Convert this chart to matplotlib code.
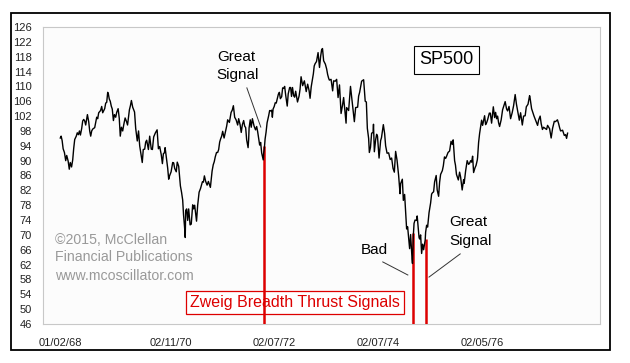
import pandas as pd
import matplotlib.pyplot as plt

plt.rcParams['font.family'] = ['Liberation Sans', 'DejaVu Sans']

# S&P 500 readings (month-day, close) taken off the chart, year by year
dates_1968 = ["01-02", "01-08", "01-15", "01-22", "01-31", "02-09", "02-16", "02-26", "03-05", "03-12",
              "03-21", "03-29", "04-05", "04-12", "04-23", "04-30", "05-08", "05-15", "05-22", "05-31",
              "06-07", "06-14", "06-21", "06-28", "07-10", "07-19", "07-26", "08-02", "08-09", "08-16",
              "08-23", "08-30", "09-13", "09-20", "09-27", "10-10", "10-18", "10-25", "10-31", "11-08",
              "11-15", "11-22", "11-29", "12-03", "12-10", "12-17", "12-24", "12-31"]
sp_1968 = [96.1, 96.6, 95.4, 93.2, 92.2, 90.0, 91.4, 89.9, 87.7, 89.5,
           88.3, 90.2, 93.3, 95.7, 96.6, 97.5, 97.0, 98.0, 96.9, 98.7,
           100.7, 101.1, 100.7, 99.6, 102.4, 100.5, 98.0, 96.6, 98.0, 98.5,
           98.7, 98.9, 101.7, 101.3, 102.9, 103.5, 104.6, 102.9, 103.4, 104.0,
           105.5, 105.7, 108.4, 108.1, 106.6, 106.0, 104.7, 103.9]

dates_1969 = ["01-08", "01-15", "01-24", "01-31", "02-10", "02-18", "02-25", "03-05", "03-14", "03-21",
              "03-31", "04-10", "04-17", "04-30", "05-07", "05-14", "05-23", "06-05", "06-13", "06-24",
              "07-03", "07-11", "07-18", "07-29", "08-05", "08-15", "08-22", "08-29", "09-10", "09-19",
              "09-30", "10-08", "10-17", "10-29", "11-10", "11-19", "11-28", "12-09", "12-17", "12-24",
              "12-31"]
sp_1969 = [100.8, 102.4, 101.7, 103.0, 104.0, 101.4, 96.6, 99.0, 98.0, 99.6,
           101.5, 100.5, 99.6, 103.7, 104.8, 106.2, 104.4, 103.1, 98.7, 95.3,
           98.0, 94.0, 92.3, 89.5, 93.0, 93.1, 95.0, 95.5, 93.0, 96.6,
           93.1, 93.0, 96.4, 97.5, 98.3, 93.2, 93.8, 91.6, 89.2, 91.9,
           92.1]

dates_1970 = ["01-05", "01-14", "01-23", "01-30", "02-05", "02-16", "02-27", "03-06", "03-13", "03-24",
              "03-31", "04-10", "04-22", "04-30", "05-08", "05-14", "05-21", "05-26", "05-29", "06-05",
              "06-12", "06-19", "06-29", "07-07", "07-17", "07-24", "07-31", "08-07", "08-13", "08-21",
              "08-31", "09-10", "09-23", "09-30", "10-07", "10-16", "10-26", "11-04", "11-18", "11-30",
              "12-08", "12-15", "12-22", "12-31"]
sp_1970 = [93.5, 90.7, 88.0, 85.0, 85.9, 87.0, 89.5, 89.4, 87.9, 87.0,
           89.6, 88.5, 83.2, 81.5, 79.4, 75.4, 72.2, 69.3, 76.6, 77.0,
           73.9, 77.0, 72.7, 72.9, 78.1, 77.0, 78.0, 75.8, 73.7, 78.0,
           81.5, 82.5, 84.3, 84.2, 85.9, 84.4, 83.4, 84.4, 82.8, 87.2,
           88.9, 89.7, 91.0, 92.2]

dates_1971 = ["01-08", "01-15", "01-22", "01-29", "02-05", "02-12", "02-22", "03-05", "03-12", "03-19",
              "03-31", "04-12", "04-20", "04-28", "05-07", "05-17", "05-28", "06-04", "06-14", "06-22",
              "06-30", "07-09", "07-16", "07-23", "07-30", "08-09", "08-13", "08-16", "08-24", "08-31",
              "09-08", "09-20", "09-30", "10-08", "10-15", "10-22", "10-29", "11-05", "11-12", "11-23",
              "11-26", "12-01", "12-06", "12-13", "12-20", "12-31"]
sp_1971 = [92.2, 93.0, 95.0, 95.9, 96.6, 97.9, 96.1, 98.0, 99.3, 101.0,
           100.3, 103.0, 103.6, 104.8, 101.7, 101.0, 99.6, 101.3, 99.7, 97.6,
           99.7, 100.8, 99.3, 98.9, 95.6, 93.5, 95.7, 98.8, 101.0, 99.0,
           101.3, 99.3, 98.3, 99.2, 97.8, 96.0, 94.2, 94.9, 92.1, 90.2,
           92.0, 93.4, 95.8, 97.7, 100.2, 102.1]

dates_1972 = ["01-07", "01-14", "01-21", "01-26", "01-31", "02-08", "02-15", "02-22", "02-29", "03-08",
              "03-15", "03-22", "03-31", "04-07", "04-14", "04-21", "04-28", "05-09", "05-16", "05-26",
              "06-02", "06-08", "06-15", "06-23", "06-30", "07-07", "07-20", "07-31", "08-07", "08-14",
              "08-25", "09-06", "09-19", "09-29", "10-09", "10-16", "10-24", "10-31", "11-08", "11-14",
              "11-20", "11-30", "12-11", "12-21", "12-29"]
sp_1972 = [103.5, 103.4, 103.6, 101.7, 103.9, 104.6, 105.6, 105.5, 106.6, 107.9,
           108.4, 106.7, 107.2, 109.6, 109.5, 110.0, 107.7, 104.7, 108.0, 109.7,
           109.7, 107.3, 109.7, 107.5, 107.1, 108.7, 105.8, 107.4, 109.3, 112.6,
           110.2, 111.5, 108.6, 110.6, 108.9, 106.8, 109.9, 111.6, 113.4, 115.5,
           116.1, 116.7, 119.1, 115.1, 118.1]

dates_1973 = ["01-05", "01-11", "01-19", "01-31", "02-09", "02-16", "02-23", "02-28", "03-12", "03-23",
              "03-30", "04-10", "04-20", "04-30", "05-10", "05-21", "05-31", "06-08", "06-25", "06-29",
              "07-13", "07-26", "07-31", "08-10", "08-22", "08-31", "09-14", "09-21", "09-28", "10-12",
              "10-26", "11-06", "11-14", "11-21", "11-30", "12-05", "12-13", "12-21", "12-31"]
sp_1973 = [119.9, 120.2, 116.9, 116.0, 114.7, 113.2, 112.2, 111.7, 111.9, 108.8,
           111.5, 111.4, 111.9, 107.0, 110.4, 102.7, 104.9, 107.0, 100.1, 104.3,
           103.5, 110.0, 108.2, 104.8, 100.5, 104.3, 104.4, 107.4, 108.4, 111.4,
           111.8, 106.0, 105.8, 98.7, 96.0, 92.2, 93.6, 97.4, 97.6]

dates_1974 = ["01-03", "01-09", "01-18", "01-25", "01-31", "02-11", "02-22", "02-28", "03-13", "03-22",
              "03-29", "04-08", "04-19", "04-30", "05-10", "05-20", "05-29", "06-07", "06-17", "06-28",
              "07-08", "07-12", "07-24", "07-31", "08-09", "08-16", "08-23", "08-30", "09-13", "09-20",
              "09-30", "10-03", "10-09", "10-14", "10-21", "10-31", "11-05", "11-12", "11-18", "11-22",
              "11-29", "12-06", "12-13", "12-20", "12-31"]
sp_1974 = [99.8, 92.4, 95.6, 97.1, 96.6, 90.7, 95.4, 96.2, 99.7, 97.3,
           94.0, 92.0, 92.1, 90.3, 90.7, 87.9, 86.9, 92.5, 90.1, 86.0,
           81.1, 83.8, 85.0, 79.3, 80.9, 76.3, 71.6, 72.2, 66.3, 70.1,
           63.5, 62.3, 69.8, 73.1, 74.0, 73.9, 75.1, 72.0, 69.3, 68.9,
           70.0, 65.0, 67.5, 66.0, 68.6]

dates_1975 = ["01-03", "01-10", "01-17", "01-27", "01-31", "02-07", "02-14", "02-21", "02-28", "03-07",
              "03-18", "03-25", "04-04", "04-11", "04-18", "04-30", "05-07", "05-15", "05-23", "05-30",
              "06-09", "06-20", "06-30", "07-08", "07-15", "07-25", "07-31", "08-07", "08-20", "08-29",
              "09-05", "09-16", "09-26", "09-30", "10-10", "10-21", "10-31", "11-07", "11-14", "11-21",
              "11-28", "12-05", "12-15", "12-22", "12-31"]
sp_1975 = [70.7, 72.6, 72.1, 76.0, 77.0, 78.6, 81.0, 81.4, 81.6, 84.3,
           86.0, 82.1, 80.4, 84.2, 86.3, 87.3, 88.6, 91.0, 90.6, 91.2,
           92.2, 92.6, 95.2, 94.4, 95.6, 90.0, 88.8, 86.3, 84.8, 86.9,
           85.6, 82.1, 84.9, 83.9, 87.2, 90.0, 89.0, 89.3, 90.0, 89.6,
           91.2, 86.8, 88.1, 88.7, 90.2]

dates_1976 = ["01-02", "01-09", "01-16", "01-23", "01-30", "02-06", "02-13", "02-20", "02-27", "03-05",
              "03-12", "03-24", "03-31", "04-09", "04-21", "04-30", "05-07", "05-14", "05-21", "05-28",
              "06-04", "06-15", "06-25", "06-30", "07-13", "07-23", "07-30", "08-09", "08-20", "08-31",
              "09-10", "09-21", "09-30", "10-08", "10-20", "10-29", "11-10", "11-19", "11-30", "12-08",
              "12-20", "12-31"]
sp_1976 = [90.9, 94.9, 97.3, 99.2, 100.9, 99.5, 100.8, 102.1, 99.7, 100.2,
           101.0, 102.8, 102.8, 100.1, 104.5, 101.6, 103.0, 101.3, 102.0, 100.2,
           99.2, 101.0, 103.7, 104.3, 105.9, 103.9, 103.4, 104.6, 101.3, 102.9,
           104.8, 107.8, 105.2, 103.5, 100.9, 102.9, 99.6, 102.0, 102.1, 104.5,
           105.2, 107.5]

dates_1977 = ["01-03", "01-14", "01-31", "02-10", "02-25", "03-04", "03-15", "03-22", "03-31", "04-08",
              "04-22", "04-29", "05-06", "05-20", "05-31", "06-10", "06-22", "06-30", "07-14", "07-22",
              "07-29", "08-05", "08-19", "08-31", "09-09", "09-16", "09-23"]
sp_1977 = [107.0, 104.0, 102.0, 101.0, 99.5, 100.9, 102.0, 100.0, 98.4, 99.0,
           98.6, 98.4, 99.5, 98.6, 96.1, 98.7, 100.6, 100.5, 101.0, 100.0,
           98.9, 98.0, 98.2, 96.8, 97.0, 96.0, 97.4]

# Zweig breadth thrust signal days and the index level on those days
signal_dates = ["1971-12-01", "1974-10-09", "1975-01-03"]
signal_levels = [94.0, 70.5, 69.0]

tick_dates = ["1968-01-02", "1970-02-11", "1972-02-07", "1974-02-07", "1976-02-05"]
tick_labels = ["01/02/68", "02/11/70", "02/07/72", "02/07/74", "02/05/76"]

years = {1968: (dates_1968, sp_1968), 1969: (dates_1969, sp_1969), 1970: (dates_1970, sp_1970),
         1971: (dates_1971, sp_1971), 1972: (dates_1972, sp_1972), 1973: (dates_1973, sp_1973),
         1974: (dates_1974, sp_1974), 1975: (dates_1975, sp_1975), 1976: (dates_1976, sp_1976),
         1977: (dates_1977, sp_1977)}
all_dates, all_values = [], []
for yr, (d, v) in years.items():
    all_dates += [f"{yr}-{md}" for md in d]
    all_values += v
sp = pd.Series(all_values, index=pd.to_datetime(all_dates))

fig = plt.figure(figsize=(6.3, 3.63), dpi=100)
fig.patch.set_facecolor('white')
ax = fig.add_axes([43 / 630, 1 - 324 / 363, 557 / 630, 297 / 363])
ax.set_facecolor('#fcfcfc')

# outer frame around the whole chart
fig.patches.append(plt.Rectangle((11 / 630, 13 / 363), 599 / 630, 337 / 363, transform=fig.transFigure,
                                 fill=False, edgecolor='black', linewidth=1.3))

ax.plot(sp.index, sp.values, color='black', linewidth=1.0, zorder=4)
ax.vlines(pd.to_datetime(signal_dates), 46, signal_levels, color='#dd0000', linewidth=1.8, zorder=3)

ax.set_ylim(46, 126)
ax.set_yticks(range(46, 127, 4))
ax.set_xlim(pd.Timestamp("1967-09-03"), pd.Timestamp("1978-05-08"))
ax.set_xticks(pd.to_datetime(tick_dates))
ax.set_xticklabels(tick_labels)
ax.tick_params(axis='both', length=0, labelsize=8, colors='#222222')
ax.tick_params(axis='y', pad=8)
ax.tick_params(axis='x', pad=10)
for s in ax.spines.values():
    s.set_color('#c8c8c8')
    s.set_linewidth(0.8)

tr = ax.transAxes
# SP500 box
ax.text(0.725, 0.889, "SP500", transform=tr, fontsize=13, ha='center', va='center',
        bbox=dict(boxstyle='square,pad=0.3', facecolor='white', edgecolor='black', linewidth=0.8))

# annotations
ax.text(0.312, 0.899, "Great", transform=tr, fontsize=11, ha='left', va='center')
ax.text(0.312, 0.838, "Signal", transform=tr, fontsize=11, ha='left', va='center')
ax.plot([0.366, 0.391], [0.795, 0.663], transform=tr, color='#333333', linewidth=0.7)

ax.text(0.594, 0.249, "Bad", transform=tr, fontsize=11, ha='center', va='center')
ax.plot([0.610, 0.655], [0.209, 0.165], transform=tr, color='#333333', linewidth=0.7)

ax.text(0.729, 0.343, "Great", transform=tr, fontsize=11, ha='left', va='center')
ax.text(0.729, 0.279, "Signal", transform=tr, fontsize=11, ha='left', va='center')
ax.plot([0.749, 0.693], [0.236, 0.158], transform=tr, color='#333333', linewidth=0.7)

ax.text(0.452, 0.071, "Zweig Breadth Thrust Signals", transform=tr, fontsize=11.5, color='#dd0000',
        ha='center', va='center', zorder=2,
        bbox=dict(boxstyle='square,pad=0.25', facecolor='white', edgecolor='#dd0000', linewidth=0.9))

for txt, yy in [("©2015, McClellan", 0.283), ("Financial Publications", 0.224), ("www.mcoscillator.com", 0.160)]:
    ax.text(0.0215, yy, txt, transform=tr, fontsize=10.2, color='#999999', ha='left', va='center')

fig.savefig('out.png', dpi=100)
